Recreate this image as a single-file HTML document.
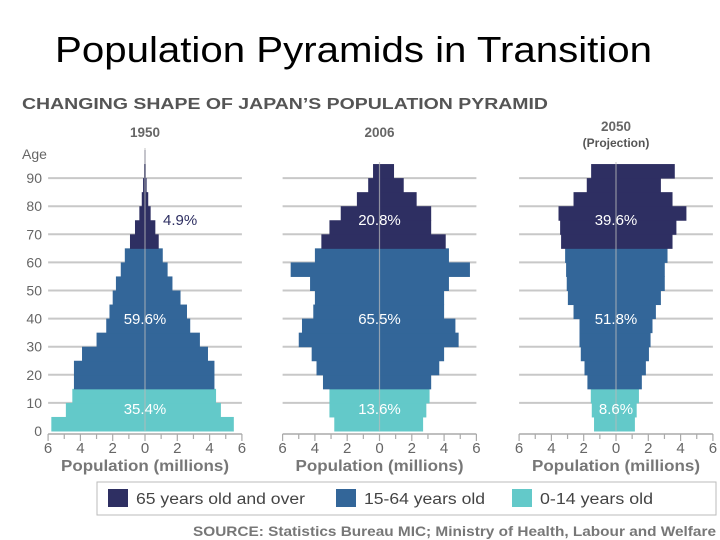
<!DOCTYPE html>
<html><head><meta charset="utf-8">
<style>
body{margin:0;background:#fff;width:720px;height:540px;overflow:hidden;font-family:"Liberation Sans",sans-serif}
svg{position:absolute;left:0;top:0}
</style></head>
<body>
<svg id="chart" width="720" height="540">
<text x="55" y="62" font-size="36" fill="#000" textLength="597" lengthAdjust="spacingAndGlyphs">Population Pyramids in Transition</text>
<text x="22" y="109" font-size="15.5" font-weight="bold" fill="#555" textLength="526" lengthAdjust="spacingAndGlyphs">CHANGING SHAPE OF JAPAN’S POPULATION PYRAMID</text>
<text x="22" y="159" font-size="14" fill="#666">Age</text>
<g id="legend">
<rect x="97" y="482" width="619" height="33" fill="#fff" stroke="#bbb"/>
<rect x="108" y="489" width="20" height="18" fill="#2e2f62"/>
<text x="136" y="504" font-size="15.5" fill="#444" textLength="169" lengthAdjust="spacingAndGlyphs">65 years old and over</text>
<rect x="336" y="489" width="20" height="18" fill="#336699"/>
<text x="364" y="504" font-size="15.5" fill="#444" textLength="121" lengthAdjust="spacingAndGlyphs">15-64 years old</text>
<rect x="512" y="489" width="20" height="18" fill="#63c9c9"/>
<text x="540" y="504" font-size="15.5" fill="#444" textLength="113" lengthAdjust="spacingAndGlyphs">0-14 years old</text>
</g>
<text x="193" y="536" font-size="14" font-weight="bold" fill="#777" textLength="523" lengthAdjust="spacingAndGlyphs">SOURCE: Statistics Bureau MIC; Ministry of Health, Labour and Welfare</text>
</svg>
<script>
const years = ["1950","2006","2050"];
const subtitles = ["","","(Projection)"];
const ageTicks = [0,10,20,30,40,50,60,70,80,90];
const xTickLabels = [6,4,2,0,2,4,6];
const left1950 = [5.8,4.9,4.5,4.4,4.4,3.9,3.0,2.4,2.2,2.0,1.8,1.5,1.25,0.93,0.62,0.35,0.2,0.12,0.06,0.03];
const right1950 = [5.5,4.7,4.4,4.3,4.3,3.9,3.4,2.8,2.6,2.2,1.7,1.4,1.1,0.85,0.64,0.35,0.2,0.1,0.05,0.03];
const left2006 = [2.8,3.1,3.1,3.5,3.9,4.2,5.0,4.8,4.1,4.0,4.3,5.5,4.0,3.6,3.1,2.4,1.4,0.7,0.4];
const right2006 = [2.7,2.9,3.1,3.2,3.7,4.0,4.9,4.7,4.0,4.0,4.3,5.6,4.3,4.1,3.2,3.2,2.3,1.5,0.9];
const left2050 = [1.36,1.5,1.56,1.77,1.95,2.18,2.26,2.26,2.63,2.98,3.05,3.09,3.15,3.4,3.46,3.56,2.63,1.81,1.54];
const right2050 = [1.17,1.28,1.42,1.6,1.85,2.04,2.14,2.26,2.47,2.78,3.02,3.02,3.19,3.5,3.74,4.36,3.5,2.78,3.64];
const pct65 = ["4.9%","20.8%","39.6%"];
const pct1564 = ["59.6%","65.5%","51.8%"];
const pct014 = ["35.4%","13.6%","8.6%"];

const NS="http://www.w3.org/2000/svg";
const svg=document.getElementById('chart');
function mk(tag,attrs,parent){const e=document.createElementNS(NS,tag);for(const k in attrs)e.setAttribute(k,attrs[k]);(parent||svg).appendChild(e);return e;}
const centers=[145,379.5,616];
const scaleX=16.15;
const y0=431, perYear=2.81;
function yAge(a){return y0-a*perYear;}
function color(band){const age=band*5;return age>=65?"#2e2f62":(age>=15?"#336699":"#63c9c9");}
const lefts=[left1950,left2006,left2050], rights=[right1950,right2006,right2050];

ageTicks.forEach(a=>{
  const t=mk('text',{x:42,y:yAge(a)+5,'text-anchor':'end','font-size':14,fill:'#666'});
  
  
  t.textContent=a;
});

years.forEach((yr,p)=>{
  const cx=centers[p];
  const g=mk('g',{});
  
  
  const xs=v=>cx+v*scaleX;
  const yt=mk('text',{x:cx,y:p==2?131:137,'text-anchor':'middle','font-size':13.5,fill:'#666','font-weight':'bold'},g);
  
  
  yt.textContent=yr;
  if(subtitles[p]){
    const st=mk('text',{x:cx,y:147,'text-anchor':'middle','font-size':12,fill:'#555','font-weight':'bold'},g);
    
    
    st.textContent=subtitles[p];
  }
  ageTicks.slice(1).forEach(a=>{
    const l=mk('line',{x1:xs(-6),x2:xs(6),y1:yAge(a),y2:yAge(a),stroke:'#c8c8c8','stroke-width':2},g);
    
    
  });
  lefts[p].forEach((v,i)=>{
    const r=mk('rect',{x:xs(-v),y:yAge(i*5+5),width:v*scaleX,height:5*perYear+0.5,fill:color(i)},g);
    
    
  });
  rights[p].forEach((v,i)=>{
    const r=mk('rect',{x:cx,y:yAge(i*5+5),width:v*scaleX,height:5*perYear+0.5,fill:color(i)},g);
    
    
  });
  const top=yAge(Math.max(lefts[p].length,rights[p].length)*5)-2;
  const cl=mk('line',{x1:cx,x2:cx,y1:top,y2:y0,stroke:'#bbb','stroke-opacity':0.7,'stroke-width':1.2},g);
  
  
  const ax=mk('line',{x1:xs(-6),x2:xs(6),y1:y0+3,y2:y0+3,stroke:'#aaa','stroke-width':1.5},g);
  
  
  for(let k=-6;k<=6;k++){
    const tk=mk('line',{x1:xs(k),x2:xs(k),y1:y0+3,y2:y0+(k%2==0?10:8),stroke:'#aaa','stroke-width':1.2},g);
    
    
  }
  xTickLabels.forEach((lab,i)=>{
    const t=mk('text',{x:xs(-6+i*2),y:453,'text-anchor':'middle','font-size':15,fill:'#666'},g);
    
    
    t.textContent=lab;
  });
  const xt=mk('text',{x:cx-84,y:471,'font-size':15.5,'font-weight':'bold',fill:'#777',textLength:168,lengthAdjust:'spacingAndGlyphs'},g);
  
  
  xt.textContent='Population (millions)';
  const a=mk('text',{x:p==0?163:cx,y:225,'text-anchor':p==0?'start':'middle','font-size':15,fill:p==0?'#2e2f62':'#fff'},g);
  
  
  a.textContent=pct65[p];
  const b=mk('text',{x:cx,y:324,'text-anchor':'middle','font-size':15,fill:'#fff'},g);
  
  
  b.textContent=pct1564[p];
  const c=mk('text',{x:cx,y:414,'text-anchor':'middle','font-size':15,fill:'#fff'},g);
  
  
  c.textContent=pct014[p];
});
</script>
</body></html>
